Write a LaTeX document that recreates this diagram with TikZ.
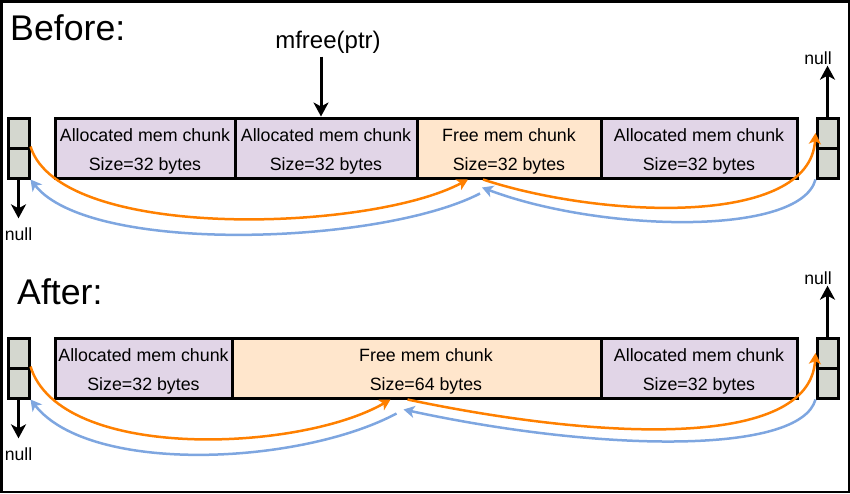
\documentclass[tikz,border=0pt]{standalone}
\usepackage{fontspec}
\setmainfont{Liberation Sans}
\usetikzlibrary{arrows.meta}
\definecolor{allocfill}{HTML}{E1D5E7}
\definecolor{freefill}{HTML}{FFE6CC}
\definecolor{cellfill}{RGB}{212,215,207}
\definecolor{fwd}{HTML}{FF8000}
\definecolor{bwd}{HTML}{7EA6E0}

\begin{document}
\begin{tikzpicture}[x=1pt,y=-1pt,
  chunk/.style={draw,line width=3pt,minimum height=60pt,inner sep=0pt,align=center,
    text height=45pt,text depth=0pt,font=\fontsize{17.8}{29}\selectfont},
  alloc/.style={chunk,fill=allocfill},
  freechunk/.style={chunk,fill=freefill},
  cell/.style={draw,line width=3pt,fill=cellfill,minimum width=21pt,minimum height=30pt,inner sep=0pt},
  ptr/.style={-{Stealth[length=14pt,width=15pt,inset=4pt]},line width=3pt},
  fwdlink/.style={-{Stealth[length=11pt,width=12pt,inset=3pt]},line width=2.5pt,fwd},
  bwdlink/.style={-{Stealth[length=11pt,width=12pt,inset=3pt]},line width=2.5pt,bwd},
  lbl/.style={font=\fontsize{17.6}{20}\selectfont,inner sep=1pt},
  title/.style={font=\fontsize{35.7}{40}\selectfont,anchor=west,inner sep=0pt}]
  \useasboundingbox (0,0) rectangle (850,493);
  \draw[line width=2.5pt] (1.25,1.25) rectangle (848.75,491.75);

  % before
  \node[title] (before) at (10,28) {Before:};
  \node[alloc,minimum width=180pt] (b1) at (145,148) {Allocated mem chunk\\Size=32 bytes};
  \node[alloc,minimum width=182pt] (b2) at (326,148) {Allocated mem chunk\\Size=32 bytes};
  \node[freechunk,minimum width=184pt] (b3) at (509,148) {Free mem chunk\\Size=32 bytes};
  \node[alloc,minimum width=196pt] (b4) at (699,148) {Allocated mem chunk\\Size=32 bytes};
  \node[cell] (bl1) at (18.5,133) {};
  \node[cell] (bl2) at (18.5,163) {};
  \node[cell] (br1) at (827.5,133) {};
  \node[cell] (br2) at (827.5,163) {};
  \node[lbl] (nullbl) at (18.5,234) {null};
  \node[lbl] (nullbr) at (818,58) {null};
  \node[font=\fontsize{24}{28}\selectfont] (mfree) at (328,42) {mfree(ptr)};
  \coordinate (hit) at ([xshift=-5pt]b2.north);
  \draw[ptr] (mfree.south -| hit) -- (hit);
  \draw[ptr,shorten >=8pt] (bl2.south) -- (nullbl);
  \draw[ptr] (br1.north) -- (br1.north |- nullbr.south);
  \draw[fwdlink] (bl2.north east) .. controls (60,242) and (370,232) .. ([xshift=-41pt]b3.south);
  \draw[fwdlink] ([xshift=-26pt]b3.south) .. controls (600,218) and (810,228) .. (br1.west);
  \draw[bwdlink] ([xshift=-29pt,yshift=-14pt]b3.south) .. controls (380,245) and (90,255) .. (bl2.south east);
  \draw[bwdlink] (br2.south west) .. controls (800,237) and (600,232) .. ([xshift=-27pt,yshift=-8pt]b3.south);

  % after
  \node[title] (after) at (17,292) {After:};
  \node[alloc,minimum width=177pt] (a1) at (143.5,368) {Allocated mem chunk\\Size=32 bytes};
  \node[freechunk,minimum width=369pt] (a2) at (416.5,368)
    {\hspace*{19pt}Free mem chunk\\\hspace*{19pt}Size=64 bytes};
  \node[alloc,minimum width=196pt] (a3) at (699,368) {Allocated mem chunk\\Size=32 bytes};
  \node[cell] (al1) at (18.5,353) {};
  \node[cell] (al2) at (18.5,383) {};
  \node[cell] (ar1) at (827.5,353) {};
  \node[cell] (ar2) at (827.5,383) {};
  \node[lbl] (nullal) at (18.5,454) {null};
  \node[lbl] (nullar) at (818,278) {null};
  \draw[ptr,shorten >=8pt] (al2.south) -- (nullal);
  \draw[ptr] (ar1.north) -- (ar1.north |- nullar.south);
  \draw[fwdlink] (al2.north east) .. controls (60,462) and (300,452) .. ([xshift=-26pt]a2.south);
  \draw[fwdlink] ([xshift=-9pt]a2.south) .. controls (600,440) and (810,450) .. (ar1.west);
  \draw[bwdlink] ([xshift=-20pt,yshift=-14pt]a2.south) .. controls (300,465) and (90,475) .. (al2.south east);
  \draw[bwdlink] (ar2.south west) .. controls (800,455) and (600,452) .. ([xshift=-13pt,yshift=-10pt]a2.south);
\end{tikzpicture}
\end{document}
